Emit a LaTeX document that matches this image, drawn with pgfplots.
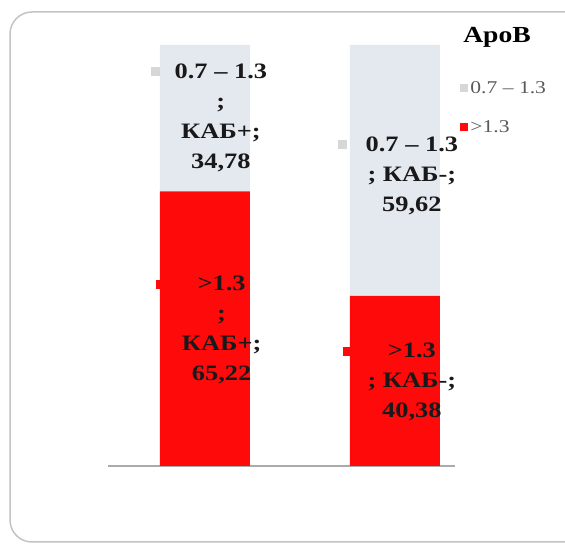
\documentclass[border=0pt]{standalone}
\usepackage{pgfplots}
\pgfplotsset{compat=1.18}
\usepackage{fontspec}
\setmainfont{Liberation Serif}[FakeStretch=1.2]
\definecolor{barred}{RGB}{255,10,10}
\definecolor{bargrey}{RGB}{228,232,239}
\definecolor{mkgrey}{RGB}{215,215,215}
\definecolor{framegrey}{RGB}{195,195,195}
\definecolor{axgrey}{RGB}{170,170,170}
\definecolor{legtext}{RGB}{90,90,90}
\definecolor{labtext}{RGB}{25,25,25}
\newcommand{\mk}[2]{\llap{\textcolor{#1}{\raisebox{2bp}{\rule{9bp}{9bp}}}\hspace{#2}}}
\newcommand{\lab}{\fontsize{22bp}{30bp}\selectfont\bfseries\color{labtext}}
\begin{document}
\begin{tikzpicture}
\useasboundingbox (0bp,0bp) rectangle (565bp,544bp);
\draw[framegrey, line width=1.5bp, rounded corners=22bp] (10bp,2bp) rectangle (590bp,532bp);
\begin{axis}[
  at={(108bp,78bp)}, anchor=south west,
  scale only axis, width=347bp, height=421bp,
  xmin=-0.51, xmax=1.316, ymin=0, ymax=100,
  ybar stacked, bar width=90bp,
  axis y line=none, axis x line*=bottom,
  x axis line style={axgrey, line width=2bp},
  xtick=\empty, ytick=\empty,
  clip=false,
  legend style={at={(1.015,0.918)}, anchor=north west, draw=none, fill=none,
    font=\fontsize{18bp}{21bp}\selectfont\color{legtext},
    row sep=21bp, inner sep=0pt, cells={anchor=west}},
  legend image code/.code={\fill[#1] (0bp,-4bp) rectangle (8bp,4bp);},
]
\addplot[fill=barred, draw=none, forget plot] coordinates {(0,65.22) (1,40.38)};
\addplot[fill=bargrey, draw=none, forget plot] coordinates {(0,34.78) (1,59.62)};
\addlegendimage{fill=mkgrey, draw=none}
\addlegendentry{0.7 – 1.3}
\addlegendimage{fill=barred, draw=none}
\addlegendentry{>1.3}
\coordinate (l1) at (axis cs:0.084,82.8);
\coordinate (l2) at (axis cs:0.088,32.3);
\coordinate (l3) at (axis cs:1.089,69.0);
\coordinate (l4) at (axis cs:1.089,19.95);
\coordinate (tt) at (axis cs:1.537,101.7);
\end{axis}
\node[font=\fontsize{23bp}{26bp}\selectfont\bfseries] at (tt) {ApoB};
\node[align=center, font=\lab] at (l1) {\mk{mkgrey}{15bp}0.7 – 1.3\\;\\КАБ+;\\34,78};
\node[align=center, font=\lab] at (l2) {\mk{barred}{33bp}>1.3\\;\\КАБ+;\\65,22};
\node[align=center, font=\lab] at (l3) {\mk{mkgrey}{19bp}0.7 – 1.3\\; КАБ-;\\59,62};
\node[align=center, font=\lab] at (l4) {\mk{barred}{36bp}>1.3\\; КАБ-;\\40,38};
\end{tikzpicture}
\end{document}
